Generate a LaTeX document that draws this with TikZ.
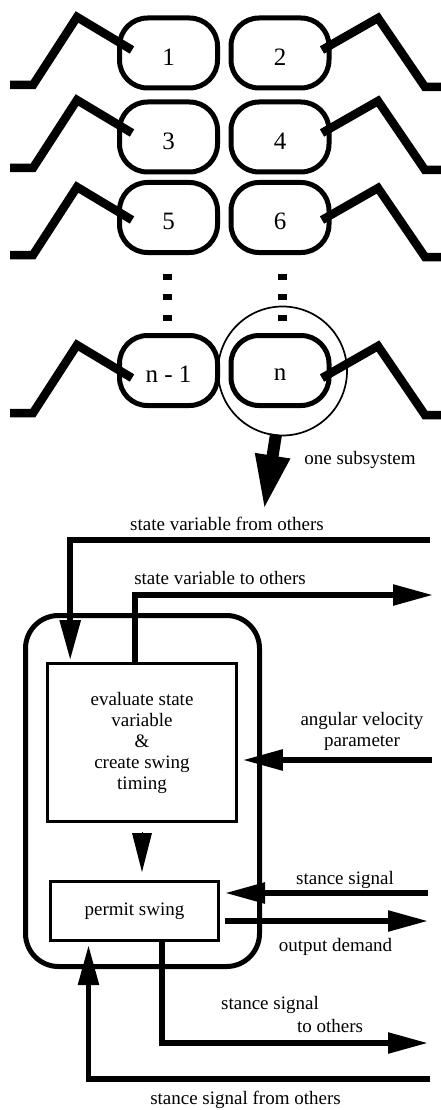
\documentclass[tikz,border=0pt]{standalone}
\usepackage{fontspec}
\setmainfont{Liberation Serif}
\usetikzlibrary{arrows.meta,calc}
\begin{document}
\begin{tikzpicture}[x=1pt,y=-1pt,
  legbox/.style={draw, line width=5pt, rounded corners=28pt, minimum width=98pt, minimum height=70pt, inner sep=0pt},
  legnum/.style={font=\fontsize{25}{25}\selectfont, inner sep=0pt},
  leg/.style={line width=8.5pt, line join=miter, line cap=butt},
  txt/.style={font=\fontsize{19}{21}\selectfont, inner sep=0pt, align=center},
  blk/.style={draw, line width=2.6pt, txt},
  sig/.style={line width=5.5pt, -{Triangle[length=40pt,width=20pt]}},
  ]
\useasboundingbox (0,0) rectangle (441,1110);

% the legs: one pair of subsystems per row
\foreach \i/\c/\e/\a/\b in {1/53/50/1/2, 2/137/133/3/4, 3/217.5/220/5/6, 4/370.5/378/{n - 1}/n} {
  \node[legbox] (L\i) at (168.5,\c) {};
  \node[legbox] (R\i) at (280,\c) {};
  \node[legnum] (La\i) at ($(L\i)+(0,4)$) {\a};
  \node[legnum] (Rb\i) at ($(R\i)+(0,4)$) {\b};
  \draw[leg] (10,{\e+35}) -- (33,{\e+35}) -- (77,{\e-33}) -- (132,\e);
  \draw[leg] (322,\e) -- (378,{\e-32}) -- (425,{\e+37}) -- (441,{\e+37});
}

% ellipsis dots between the rows
\foreach \x in {167,282}
  \foreach \y in {277,297,318}
    \fill ({\x-4.5},{\y-3}) rectangle ({\x+4.5},{\y+3});

% one subsystem picked out
\node[draw, circle, line width=1.7pt, minimum size=129pt, inner sep=0pt] (one) at (282.5,371) {};
\coordinate (bigtip) at (264,510);
\draw[line width=12pt, -{Triangle[length=55pt,width=32pt]}] ([xshift=-6.5pt,yshift=2pt]one.south) -- (bigtip);
\node[txt] (onesub) at (360,460) {one subsystem};

% block diagram of the subsystem
\node[draw, line width=5pt, rounded corners=33pt, minimum width=234pt, minimum height=351pt, inner sep=0pt] (unit) at (142.5,791) {};
\node[blk, minimum width=189pt, minimum height=158pt] (eval) at (142,742.5) {evaluate state\\variable\\\&\\create swing\\timing};
\node[blk, minimum width=168.4pt, minimum height=59.4pt] (permit) at (134.5,911) {permit swing};

\draw[-{Triangle[length=39pt,width=20pt]}, line width=0pt, shorten >=8pt] ($(eval.south)+(0,10)$) -- (eval.south |- permit.north);

% state variable from others
\coordinate (svin) at (430,540);
\draw[sig, shorten >=2pt] (svin) -| ([xshift=24pt]eval.north west);
\node[txt] (svinlbl) at (227,524) {state variable from others};

% state variable to others
\coordinate (svout) at (433,595);
\draw[sig] ([xshift=-7pt]eval.north) |- (svout);
\node[txt] (svoutlbl) at (220,578) {state variable to others};

% angular velocity parameter
\coordinate (avin) at (432,760);
\draw[sig, shorten >=5pt] (avin) -- (avin -| eval.east);
\node[txt] (avlbl) at (362,731.5) {angular velocity\\parameter};

% stance signal
\coordinate (ssin) at (428,893);
\draw[sig, shorten >=5pt] (ssin) -- (ssin -| permit.east);
\node[txt] (sslbl) at (345,880) {stance signal};

% output demand
\coordinate (odout) at (428,921);
\draw[sig, shorten <=5pt] (odout -| permit.east) -- (odout);
\node[txt] (odlbl) at (335.5,947) {output demand};

% stance signal to others
\coordinate (stout) at (428,1043);
\draw[sig] ([xshift=27.5pt]permit.south) |- (stout);
\node[txt, anchor=west] (stlbla) at (221,1005) {stance signal};
\node[txt] (stlblb) at (330,1026) {to others};

% stance signal from others
\coordinate (sfin) at (430,1079);
\draw[sig, shorten >=3pt] (sfin) -| ([xshift=-46pt]permit.south);
\node[txt] (sflbl) at (245.5,1100) {stance signal from others};
\end{tikzpicture}
\end{document}
